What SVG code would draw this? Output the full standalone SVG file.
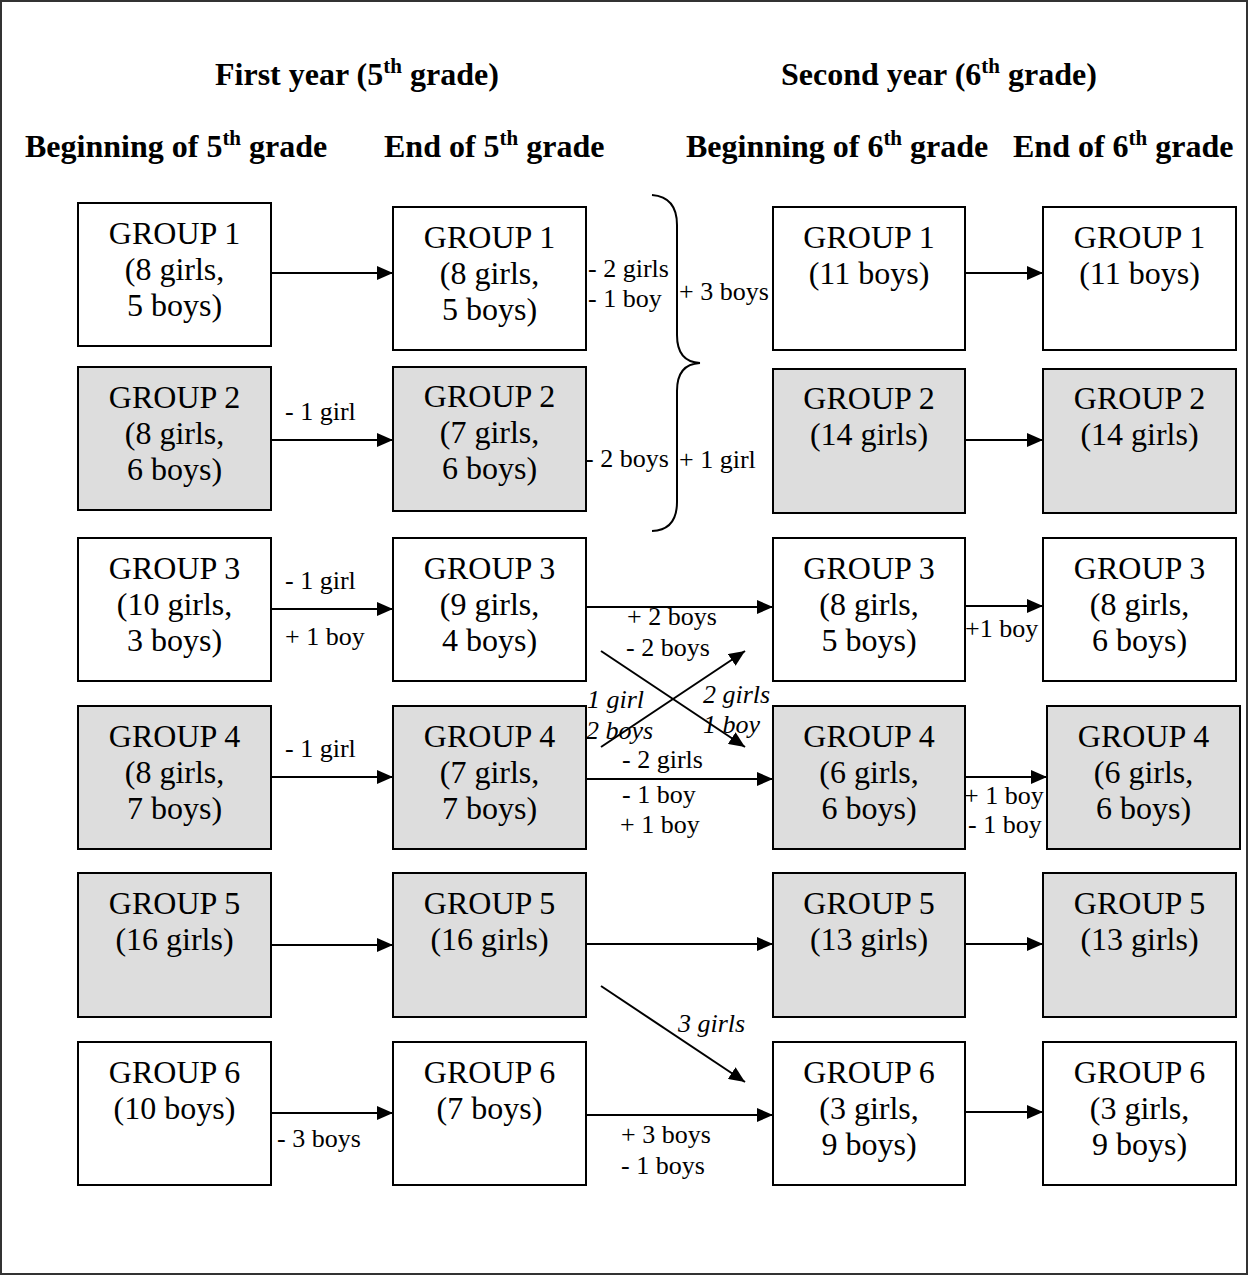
<svg xmlns="http://www.w3.org/2000/svg" width="1248" height="1275" viewBox="0 0 1248 1275">
<style>
.box{fill:#ffffff;stroke:#000;stroke-width:2}
.gray{fill:#dddddd;stroke:#000;stroke-width:2}
.bt{font-family:"Liberation Serif","Times New Roman",serif;font-size:32px;text-anchor:middle;fill:#000}
.hd{font-family:"Liberation Serif","Times New Roman",serif;font-size:32px;font-weight:bold;fill:#000}
.lb{font-family:"Liberation Serif","Times New Roman",serif;font-size:26px;fill:#000}
.it{font-family:"Liberation Serif","Times New Roman",serif;font-size:26px;font-style:italic;fill:#000}
.ln{stroke:#000;stroke-width:2;fill:none;marker-end:url(#ah)}
</style>
<defs>
<marker id="ah" markerUnits="userSpaceOnUse" markerWidth="16" markerHeight="14" refX="16" refY="7" orient="auto">
<path d="M0,0 L16,7 L0,14 Z" fill="#000"/>
</marker>
</defs>
<rect x="1" y="1" width="1246" height="1273" fill="#fff" stroke="#333" stroke-width="2"/>

<g id="headings">
<text class="hd" x="215" y="85">First year (5<tspan font-size="21" dy="-12">th</tspan><tspan dy="12"> grade)</tspan></text>
<text class="hd" x="781" y="85">Second year (6<tspan font-size="21" dy="-12">th</tspan><tspan dy="12"> grade)</tspan></text>
<text class="hd" x="25" y="157">Beginning of 5<tspan font-size="21" dy="-12">th</tspan><tspan dy="12"> grade</tspan></text>
<text class="hd" x="384" y="157">End of 5<tspan font-size="21" dy="-12">th</tspan><tspan dy="12"> grade</tspan></text>
<text class="hd" x="686" y="157">Beginning of 6<tspan font-size="21" dy="-12">th</tspan><tspan dy="12"> grade</tspan></text>
<text class="hd" x="1013" y="157">End of 6<tspan font-size="21" dy="-12">th</tspan><tspan dy="12"> grade</tspan></text>
</g>

<!-- Column 1 -->
<g id="c1g1"><rect class="box" x="78" y="203" width="193" height="143"/><text class="bt" x="174.5" y="244">GROUP 1<tspan x="174.5" dy="36">(8 girls,</tspan><tspan x="174.5" dy="36">5 boys)</tspan></text></g>
<g id="c1g2"><rect class="gray" x="78" y="367" width="193" height="143"/><text class="bt" x="174.5" y="408">GROUP 2<tspan x="174.5" dy="36">(8 girls,</tspan><tspan x="174.5" dy="36">6 boys)</tspan></text></g>
<g id="c1g3"><rect class="box" x="78" y="538" width="193" height="143"/><text class="bt" x="174.5" y="579">GROUP 3<tspan x="174.5" dy="36">(10 girls,</tspan><tspan x="174.5" dy="36">3 boys)</tspan></text></g>
<g id="c1g4"><rect class="gray" x="78" y="706" width="193" height="143"/><text class="bt" x="174.5" y="747">GROUP 4<tspan x="174.5" dy="36">(8 girls,</tspan><tspan x="174.5" dy="36">7 boys)</tspan></text></g>
<g id="c1g5"><rect class="gray" x="78" y="873" width="193" height="144"/><text class="bt" x="174.5" y="914">GROUP 5<tspan x="174.5" dy="36">(16 girls)</tspan></text></g>
<g id="c1g6"><rect class="box" x="78" y="1042" width="193" height="143"/><text class="bt" x="174.5" y="1083">GROUP 6<tspan x="174.5" dy="36">(10 boys)</tspan></text></g>

<!-- Column 2 -->
<g id="c2g1"><rect class="box" x="393" y="207" width="193" height="143"/><text class="bt" x="489.5" y="248">GROUP 1<tspan x="489.5" dy="36">(8 girls,</tspan><tspan x="489.5" dy="36">5 boys)</tspan></text></g>
<g id="c2g2"><rect class="gray" x="393" y="367" width="193" height="144"/><text class="bt" x="489.5" y="407">GROUP 2<tspan x="489.5" dy="36">(7 girls,</tspan><tspan x="489.5" dy="36">6 boys)</tspan></text></g>
<g id="c2g3"><rect class="box" x="393" y="538" width="193" height="143"/><text class="bt" x="489.5" y="579">GROUP 3<tspan x="489.5" dy="36">(9 girls,</tspan><tspan x="489.5" dy="36">4 boys)</tspan></text></g>
<g id="c2g4"><rect class="gray" x="393" y="706" width="193" height="143"/><text class="bt" x="489.5" y="747">GROUP 4<tspan x="489.5" dy="36">(7 girls,</tspan><tspan x="489.5" dy="36">7 boys)</tspan></text></g>
<g id="c2g5"><rect class="gray" x="393" y="873" width="193" height="144"/><text class="bt" x="489.5" y="914">GROUP 5<tspan x="489.5" dy="36">(16 girls)</tspan></text></g>
<g id="c2g6"><rect class="box" x="393" y="1042" width="193" height="143"/><text class="bt" x="489.5" y="1083">GROUP 6<tspan x="489.5" dy="36">(7 boys)</tspan></text></g>

<!-- Column 3 -->
<g id="c3g1"><rect class="box" x="773" y="207" width="192" height="143"/><text class="bt" x="869" y="248">GROUP 1<tspan x="869" dy="36">(11 boys)</tspan></text></g>
<g id="c3g2"><rect class="gray" x="773" y="369" width="192" height="144"/><text class="bt" x="869" y="409">GROUP 2<tspan x="869" dy="36">(14 girls)</tspan></text></g>
<g id="c3g3"><rect class="box" x="773" y="538" width="192" height="143"/><text class="bt" x="869" y="579">GROUP 3<tspan x="869" dy="36">(8 girls,</tspan><tspan x="869" dy="36">5 boys)</tspan></text></g>
<g id="c3g4"><rect class="gray" x="773" y="706" width="192" height="143"/><text class="bt" x="869" y="747">GROUP 4<tspan x="869" dy="36">(6 girls,</tspan><tspan x="869" dy="36">6 boys)</tspan></text></g>
<g id="c3g5"><rect class="gray" x="773" y="873" width="192" height="144"/><text class="bt" x="869" y="914">GROUP 5<tspan x="869" dy="36">(13 girls)</tspan></text></g>
<g id="c3g6"><rect class="box" x="773" y="1042" width="192" height="143"/><text class="bt" x="869" y="1083">GROUP 6<tspan x="869" dy="36">(3 girls,</tspan><tspan x="869" dy="36">9 boys)</tspan></text></g>

<!-- Column 4 -->
<g id="c4g1"><rect class="box" x="1043" y="207" width="193" height="143"/><text class="bt" x="1139.5" y="248">GROUP 1<tspan x="1139.5" dy="36">(11 boys)</tspan></text></g>
<g id="c4g2"><rect class="gray" x="1043" y="369" width="193" height="144"/><text class="bt" x="1139.5" y="409">GROUP 2<tspan x="1139.5" dy="36">(14 girls)</tspan></text></g>
<g id="c4g3"><rect class="box" x="1043" y="538" width="193" height="143"/><text class="bt" x="1139.5" y="579">GROUP 3<tspan x="1139.5" dy="36">(8 girls,</tspan><tspan x="1139.5" dy="36">6 boys)</tspan></text></g>
<g id="c4g4"><rect class="gray" x="1047" y="706" width="193" height="143"/><text class="bt" x="1143.5" y="747">GROUP 4<tspan x="1143.5" dy="36">(6 girls,</tspan><tspan x="1143.5" dy="36">6 boys)</tspan></text></g>
<g id="c4g5"><rect class="gray" x="1043" y="873" width="193" height="144"/><text class="bt" x="1139.5" y="914">GROUP 5<tspan x="1139.5" dy="36">(13 girls)</tspan></text></g>
<g id="c4g6"><rect class="box" x="1043" y="1042" width="193" height="143"/><text class="bt" x="1139.5" y="1083">GROUP 6<tspan x="1139.5" dy="36">(3 girls,</tspan><tspan x="1139.5" dy="36">9 boys)</tspan></text></g>

<g id="connectors">
<line class="ln" x1="271" y1="273" x2="393" y2="273"/>
<line class="ln" x1="965" y1="273" x2="1043" y2="273"/>
<line class="ln" x1="271" y1="440" x2="393" y2="440"/>
<line class="ln" x1="965" y1="440" x2="1043" y2="440"/>
<line class="ln" x1="271" y1="609" x2="393" y2="609"/>
<line class="ln" x1="586" y1="607" x2="773" y2="607"/>
<line class="ln" x1="965" y1="606" x2="1043" y2="606"/>
<line class="ln" x1="601" y1="651" x2="745" y2="747"/>
<line class="ln" x1="601" y1="747" x2="745" y2="651"/>
<line class="ln" x1="271" y1="777" x2="393" y2="777"/>
<line class="ln" x1="586" y1="779" x2="773" y2="779"/>
<line class="ln" x1="965" y1="777" x2="1047" y2="777"/>
<line class="ln" x1="271" y1="945" x2="393" y2="945"/>
<line class="ln" x1="586" y1="944" x2="773" y2="944"/>
<line class="ln" x1="965" y1="944" x2="1043" y2="944"/>
<line class="ln" x1="601" y1="986" x2="745" y2="1082"/>
<line class="ln" x1="271" y1="1113" x2="393" y2="1113"/>
<line class="ln" x1="586" y1="1115" x2="773" y2="1115"/>
<line class="ln" x1="965" y1="1112" x2="1043" y2="1112"/>
<path d="M652,195 Q677,197 677,225 L677,335 Q677,362 700,363 Q677,364 677,391 L677,502 Q677,530 652,531" fill="none" stroke="#000" stroke-width="2"/>
</g>

<g id="labels">
<text class="lb" x="588" y="277">- 2 girls</text>
<text class="lb" x="588" y="307">- 1 boy</text>
<text class="lb" x="679" y="300">+ 3 boys</text>
<text class="lb" x="585" y="467">- 2 boys</text>
<text class="lb" x="679" y="468">+ 1 girl</text>
<text class="lb" x="285" y="420">- 1 girl</text>
<text class="lb" x="285" y="589">- 1 girl</text>
<text class="lb" x="285" y="645">+ 1 boy</text>
<text class="lb" x="285" y="757">- 1 girl</text>
<text class="lb" x="627" y="625">+ 2 boys</text>
<text class="lb" x="626" y="656">- 2 boys</text>
<text class="it" x="587" y="708">1 girl</text>
<text class="it" x="586" y="739">2 boys</text>
<text class="it" x="703" y="703">2 girls</text>
<text class="it" x="703" y="733">1 boy</text>
<text class="lb" x="622" y="768">- 2 girls</text>
<text class="lb" x="622" y="803">- 1 boy</text>
<text class="lb" x="620" y="833">+ 1 boy</text>
<text class="lb" x="965" y="637">+1 boy</text>
<text class="lb" x="964" y="804">+ 1 boy</text>
<text class="lb" x="968" y="833">- 1 boy</text>
<text class="it" x="678" y="1032">3 girls</text>
<text class="lb" x="277" y="1147">- 3 boys</text>
<text class="lb" x="621" y="1143">+ 3 boys</text>
<text class="lb" x="621" y="1174">- 1 boys</text>
</g>
</svg>
